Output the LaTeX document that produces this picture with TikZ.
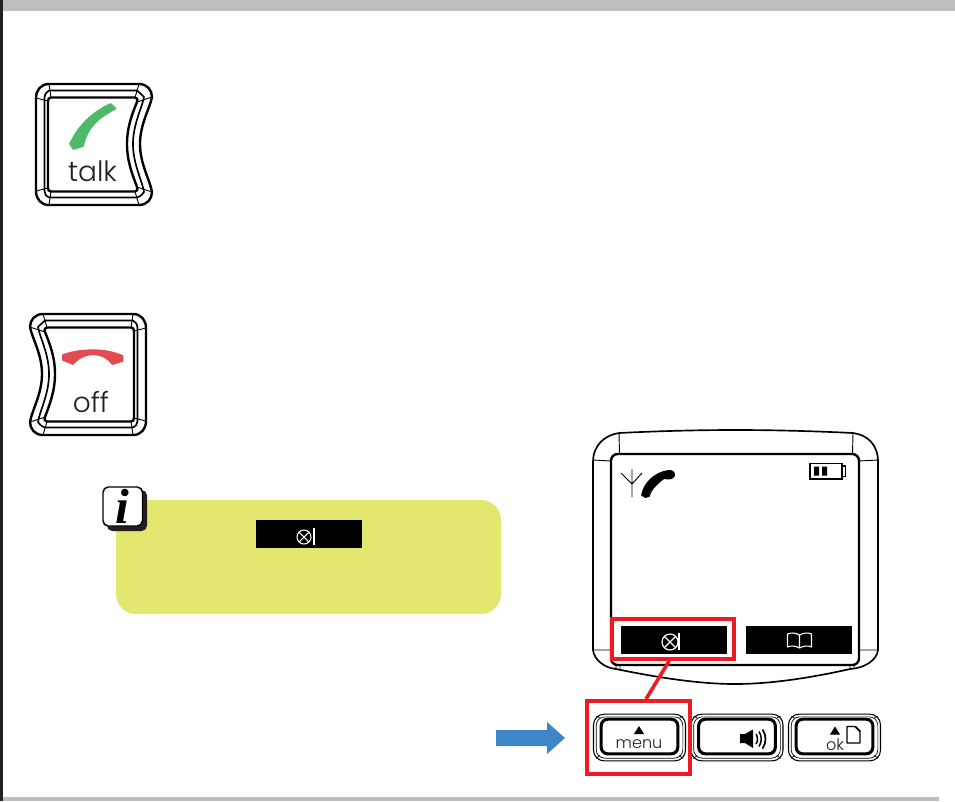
\documentclass[tikz,border=0pt]{standalone}
\usepackage{fontspec}
\usetikzlibrary{calc}
\setmainfont{Liberation Sans}
\newfontfamily\keyfont{Poppins}[UprightFont=* Light]
\newfontfamily\iconfont{Liberation Serif}
\definecolor{barGrey}{HTML}{BDBDBF}
\definecolor{edgeDark}{HTML}{231F20}
\definecolor{noteYellow}{HTML}{E3E66F}
\definecolor{talkGreen}{HTML}{4DB96B}
\definecolor{offRed}{HTML}{E24B50}
\definecolor{markRed}{HTML}{ED1C24}
\definecolor{arrowBlue}{HTML}{3D85C6}
\tikzset{
  heavy/.style={line width=1.8pt,black},
  medium/.style={line width=1.25pt,black},
  fine/.style={line width=0.7pt,black},
  softlabel/.style={fill=black,minimum width=79.5pt,minimum height=21pt,inner sep=0pt},
  markframe/.style={draw=markRed,line width=2.7pt,inner sep=0pt},
  keytext/.style={font=\keyfont,text=edgeDark,inner sep=0pt},
  keyA/.style={draw=black,line width=0.8pt,rounded corners=8pt,minimum width=69pt,minimum height=35pt,inner sep=0pt},
  keyB/.style={draw=black,line width=0.5pt,rounded corners=6.5pt,minimum width=65pt,minimum height=31pt,inner sep=0pt},
  keyC/.style={draw=black,line width=2.3pt,rounded corners=5pt,minimum width=57.5pt,minimum height=26pt,inner sep=0pt},
  glyph/.style={draw=white,line width=0.8pt},
  handset/.style={fill=#1,draw=#1,line width=1.3pt,line join=round},
}
% Side key with one hollowed edge, drawn in a frame 117 wide and 121 tall
\newcommand{\sidekey}{%
  \draw[heavy] (14,0) -- (104,0) .. controls (112,0) and (117,6) .. (117,13)
     .. controls (115,24) and (105,40) .. (105,60)
     .. controls (105,80) and (115,96) .. (117,108)
     .. controls (117,115) and (112,121) .. (104,121) -- (14,121)
     .. controls (6,121) and (1,115) .. (1,107) -- (1,14)
     .. controls (1,6) and (6,0) .. (14,0) -- cycle;
  \draw[medium] (14,6.5) -- (102,6.5) .. controls (106,10) and (108,12) .. (109,13)
     .. controls (107,24) and (98,40) .. (98,60)
     .. controls (98,80) and (107,96) .. (109,108)
     .. controls (108,110) and (106,112) .. (102,113.5) -- (14,113.5)
     .. controls (11,113) and (10,110) .. (9.5,107) -- (9.5,14)
     .. controls (10,10) and (11,8) .. (14,6.5) -- cycle;
  \draw[heavy] (16,13.5) -- (100,13.5) .. controls (102,14) and (103,15) .. (102,18)
     .. controls (98,28) and (92,42) .. (92,60)
     .. controls (92,78) and (98,92) .. (102,103)
     .. controls (103,106) and (102,107) .. (100,107.5) -- (16,107.5)
     .. controls (14,107.5) and (13,106) .. (13,104) -- (13,17)
     .. controls (13,15) and (14,13.5) .. (16,13.5) -- cycle;
  \draw[fine] (1,14) -- (13,17) (1,107) -- (13,104) (14,0) -- (16,13.5) (14,121) -- (16,107.5)
     (104,0) -- (100,13.5) (104,121) -- (100,107.5) (117,13) -- (102,18) (117,108) -- (102,103);
}
\begin{document}
\begin{tikzpicture}[x=0.75pt,y=-0.75pt]
\useasboundingbox (0,0) rectangle (955,801);
% page rules
\fill[barGrey] (3,0) rectangle (955,11);
\fill[barGrey] (3,797) rectangle (939,801);
\fill[edgeDark] (0,0) rectangle (3,801);

% talk key
\begin{scope}[shift={(35,84)}]
  \sidekey
\end{scope}
\path[handset=talkGreen] (110.5,104) -- (115.5,108.5)
  .. controls (102,116) and (88,124) .. (83,146) -- (73.5,149) -- (70,144)
  .. controls (77,129) and (89,114) .. (110.5,104) -- cycle;
\node[keytext,font=\keyfont\fontsize{21}{21}\selectfont] (talklabel) at (92.5,171) {talk};

% off key, the talk key's outline turned left to right
\begin{scope}[shift={(147,314)},xscale=-1]
  \sidekey
\end{scope}
\path[handset=offRed] (63,355) .. controls (80,349) and (105,348) .. (122.5,356)
  -- (122.5,361) -- (112.5,364) .. controls (104,352) and (85,350) .. (73,364) -- (63,360) -- cycle;
\node[keytext,font=\keyfont\fontsize{21}{21}\selectfont] (offlabel) at (91,402) {off};

% note panel
\fill[noteYellow,rounded corners=15pt] (116,500) rectangle (501,614);
\fill[edgeDark,rounded corners=4pt] (107,490) rectangle (147,531);
\draw[black,line width=1.1pt,fill=white,rounded corners=4pt] (103,487) rectangle (142.5,526);
\node[inner sep=0pt,font=\iconfont\bfseries\itshape\fontsize{37}{37}\selectfont] (infomark) at (122.5,506.5) {i};
\node[fill=black,minimum width=79.5pt,minimum height=21pt,inner sep=0pt] (notechip) at (309,534) {};
\draw[glyph] (304,537) circle (7);
\draw[glyph] (299,532) -- (309,542) (299,542) -- (309,532);
\draw[white,line width=1pt] (314,528) -- (314,545);

% handset housing
\draw[medium] (593,650) -- (593,462) .. controls (593,445) and (605,435) .. (619,433)
  .. controls (700,429) and (770,429) .. (853,433)
  .. controls (868,435) and (878,445) .. (878,462) -- (878,650)
  .. controls (877,660) and (865,668) .. (850,669)
  .. controls (810,678) and (770,684) .. (735,684)
  .. controls (700,684) and (660,678) .. (616,669)
  .. controls (605,668) and (594,660) .. (593,650) -- cycle;
\draw[heavy,rounded corners=5pt] (611,454) rectangle (859,665);
\draw[fine] (619,433) -- (619.5,454) (853,433) -- (852.5,454) (593,460) -- (611,461) (878,460) -- (859,461)
  (593,650) -- (611,650) (878,650) -- (859,650) (616,666) -- (616,669) (620,666) -- (620,669)
  (850,666) -- (850,669) (854,666) -- (854,669);

% status icons
\draw[fine] (632,469) -- (632,497) (621,473) -- (632,484) -- (642,473);
\path[handset=black] (668,471) .. controls (672,470) and (675,473) .. (674,476)
  .. controls (672,479) and (668,479) .. (664,478)
  .. controls (657,483) and (650,490) .. (649,496) .. controls (647,498) and (644,497) .. (642,495)
  .. controls (644,484) and (654,473) .. (668,471) -- cycle;
\draw[black,line width=0.9pt] (810,463.5) rectangle (842,479) (842,466) rectangle (845.5,476.5);
\fill[black] (814,466.5) rectangle (819,475.5) (822,466.5) rectangle (827,475.5);

% soft key labels
\node[softlabel] (softleft) at (673.5,640) {};
\node[softlabel] (softright) at (799,640) {};
\draw[glyph,line width=0.9pt] (670,642) circle (8);
\draw[glyph,line width=0.9pt] (664.3,636.3) -- (675.7,647.7) (664.3,647.7) -- (675.7,636.3);
\draw[white,line width=1pt] (679,633) -- (679,649.5);
\draw[glyph,line join=round] (799.5,635) .. controls (795,632.5) and (791,632.5) .. (787.5,634) -- (787.5,647)
  .. controls (791,645.5) and (795,645.5) .. (799.5,648)
  .. controls (804,645.5) and (808,645.5) .. (811.5,647) -- (811.5,634)
  .. controls (808,632.5) and (804,632.5) .. (799.5,635) -- (799.5,648);

% keypad row
\foreach \name/\cx in {menukey/639.5,speakerkey/737,okkey/834.5}{
  \node[keyA] (\name) at (\cx,737.5) {};
  \node[keyB] (\name mid) at (\cx,737.5) {};
  \node[keyC] (\name core) at (\cx,736.5) {};
  \draw[fine,line width=0.5pt]
    ($(\name.north west)+(3,3)$) -- (\name core.north west)
    ($(\name.north east)+(-3,3)$) -- (\name core.north east)
    ($(\name.south west)+(3,-3)$) -- (\name core.south west)
    ($(\name.south east)+(-3,-3)$) -- (\name core.south east);
}
\fill[black] (639,726) -- (644,734) -- (634,734) -- cycle;
\node[keytext,font=\keyfont\fontsize{12}{12}\selectfont] (menulabel) at (639,744) {menu};
\fill[black] (740,734) -- (745,734) -- (753,729.5) -- (753,748) -- (745,743) -- (740,743) -- cycle;
\draw[black,line width=1.1pt] (756,734) .. controls (758,737) and (758,741) .. (756,744)
  (759,731.5) .. controls (762,736) and (762,742) .. (759,746.5);
\draw[black,line width=1.3pt] (762.5,729.5) .. controls (766.5,735) and (766.5,743) .. (762.5,748.5);
\fill[black] (835,726.5) -- (840,734.5) -- (830,734.5) -- cycle;
\node[keytext,font=\keyfont\fontsize{12}{12}\selectfont] (oklabel) at (835,745) {ok};
\draw[black,line width=0.9pt,line join=round] (847,743) -- (847,726.5) -- (855.5,726.5) -- (860,731) -- (860,743) -- cycle;
\draw[black,line width=1.3pt] (855,726.5) -- (860,731.5);

% red markers and the link between them
\node[markframe,minimum width=91.5pt,minimum height=30pt] (softmark) at (673,639) {};
\node[markframe,minimum width=77.5pt,minimum height=55pt] (menumark) at (638.5,737.5) {};
\draw[markRed,line width=2.7pt] ($(softmark.south west)!0.47!(softmark.south east)$)
  -- ($(menumark.north west)!0.57!(menumark.north east)$);

% pointer arrow
\fill[arrowBlue] (496,730) -- (547,730) -- (547,722) -- (565,738) -- (547,754) -- (547,746) -- (496,746) -- cycle;
\end{tikzpicture}
\end{document}
